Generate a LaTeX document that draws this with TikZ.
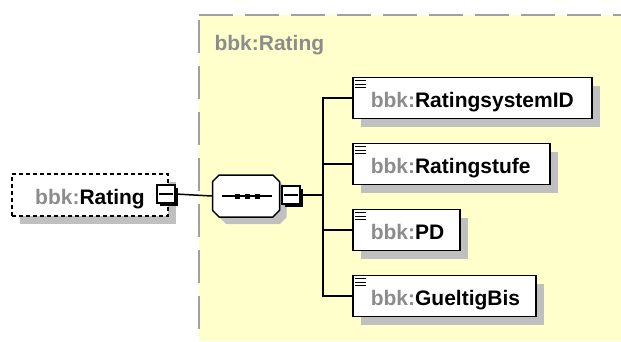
\documentclass[tikz,border=0pt]{standalone}
\usepackage{fontspec}
\setmainfont{Liberation Sans}
\usetikzlibrary{shapes.misc,shadows}

\definecolor{grpfill}{HTML}{FFFFCC}
\definecolor{grpline}{HTML}{A0A0A0}
\definecolor{shadowgray}{HTML}{C0C0C0}
\definecolor{pfxgray}{HTML}{8C8C8C}

\newcommand{\xname}[1]{\textcolor{pfxgray}{bbk:}#1}

\tikzset{
  gshadow/.style={drop shadow={shadow xshift=8pt,shadow yshift=-8pt,fill=shadowgray,opacity=1}},
  elem/.style={draw,line width=1.5pt,fill=white,gshadow,anchor=west,inner xsep=0pt,
    minimum height=41pt,text width=#1,align=left,text height=18pt,text depth=0pt},
  refbox/.style={draw,dash pattern=on 4pt off 3pt,line width=1.5pt,fill=white,gshadow,
    minimum width=156pt,minimum height=42pt,text height=18pt,text depth=0pt},
  minus/.style={draw,line width=1.5pt,fill=white,minimum size=18pt,inner sep=0pt,
    drop shadow={shadow xshift=3pt,shadow yshift=-3pt,fill=black,opacity=1}},
  seqbox/.style={chamfered rectangle,chamfered rectangle xsep=10pt,draw,line width=1.5pt,
    fill=white,minimum width=67pt,minimum height=42pt,
    drop shadow={shadow xshift=7pt,shadow yshift=-7pt,fill=shadowgray,opacity=1}},
  conn/.style={line width=1.5pt}
}

\begin{document}
\begin{tikzpicture}[x=1pt,y=-1pt,font=\fontsize{21}{24}\selectfont\bfseries]
  \useasboundingbox (0,0) rectangle (621,341);
  % group area
  \fill[grpfill] (199,15) rectangle (621,341);
  \draw[grpline,line width=2pt,dash pattern=on 34pt off 12pt] (199,15) -- (621,15);
  \draw[grpline,line width=2pt,dash pattern=on 33pt off 13pt] (199,20) -- (199,341);
  \node[anchor=base west,text=pfxgray] (grptitle) at (211,50) {bbk:Rating};

  \node[refbox] (rating) at (90,195) {\xname{Rating}};
  \node[minus] (mref) at (166,194) {};
  \node[seqbox] (seq) at (246,196) {};
  \node[minus] (mseq) at (291,195) {};
  \coordinate (fork) at (323,195);

  \node[elem=239pt] (sysid) at (352,98) {\hspace*{18pt}\xname{RatingsystemID}};
  \node[elem=197pt] (stufe) at (352,164) {\hspace*{18pt}\xname{Ratingstufe}};
  \node[elem=107pt] (pd) at (352,230) {\hspace*{18pt}\xname{PD}};
  \node[elem=183pt] (bis) at (352,296) {\hspace*{18pt}\xname{GueltigBis}};

  \foreach \m in {mref,mseq}
    \draw[line width=1.2pt] ([xshift=3pt]\m.west) -- ([xshift=-3pt]\m.east);
  \draw[conn] ([xshift=10pt]seq.west) -- ([xshift=-8pt]seq.east);
  \foreach \dx in {-9,1,11}
    \fill ([xshift=\dx pt]seq.center) ++(-2.5,-2.5) rectangle ++(5,5);
  \foreach \n in {sysid,stufe,pd,bis}
    \foreach \k in {0,1,2}
      \draw[line width=1.3pt] ([xshift=3pt,yshift=-4pt-3.5pt*\k]\n.north west) -- ++(11,0);

  \draw[conn] (mref.east) -- (seq.west);
  \draw[conn] (mseq.east) -- (fork);
  \foreach \n in {sysid,stufe,pd,bis}
    \draw[conn] (fork) |- (\n.west);
\end{tikzpicture}
\end{document}
